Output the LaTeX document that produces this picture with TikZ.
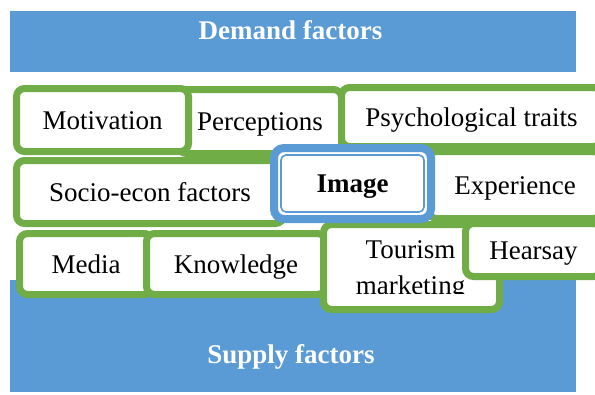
\documentclass[tikz,border=0pt]{standalone}
\usepackage{fontspec}
\setmainfont{Liberation Serif}
\usepackage{xcolor}
\usetikzlibrary{calc}
\definecolor{bandblue}{HTML}{5B9BD5}
\definecolor{boxgreen}{HTML}{70AD47}

\begin{document}
\begin{tikzpicture}[x=1pt, y=-1pt,
    every node/.style={font=\fontsize{27}{32}\selectfont},
    bandtext/.style={text=white, font=\fontsize{27}{32}\selectfont\bfseries, inner sep=0pt, text height=18pt, text depth=0pt},
    factor/.style={draw=boxgreen, line width=7pt, fill=white, rounded corners=8pt, inner sep=0pt, text height=18pt, text depth=0pt},
    core/.style={draw=bandblue, line width=8pt, fill=white, rounded corners=10pt, inner sep=0pt, text height=18pt, text depth=0pt, font=\fontsize{27}{32}\selectfont\bfseries}]
    \useasboundingbox (0,0) rectangle (595,394);

    % Demand and supply bands
    \fill[bandblue] (10,11) rectangle (576,72);
    \fill[bandblue] (10,280) rectangle (576,392);
    \node[bandtext] (dem) at (290.5,30) {Demand factors};
    \node[bandtext] (sup) at (291,354) {Supply factors};

    % Top row
    \node[factor, minimum width=163pt, minimum height=64pt] (perc) at (260,121.5) {Perceptions};
    \node[factor, minimum width=172pt, minimum height=63pt] (mot) at (102.5,120) {Motivation};
    \node[factor, minimum width=260pt, minimum height=59pt] (psy) at (471.5,117) {Psychological traits};

    % Middle row
    \node[factor, minimum width=267pt, minimum height=63pt] (soc) at (150,192) {Socio-econ factors};
    \node[factor, minimum width=173pt, minimum height=67pt] (exp) at (515,185) {Experience};

    % Bottom row
    \node[factor, minimum width=133pt, minimum height=61pt] (med) at (86,264) {Media};
    \node[factor, minimum width=179pt, minimum height=61pt] (know) at (236,264) {Knowledge};
    \node[factor, minimum width=176pt, minimum height=85pt] (tour) at (411.5,267) {};
    \begin{scope}
        \clip (325,228) rectangle (496,293);
        \node[inner sep=0pt, align=center, font=\fontsize{27}{36}\selectfont] (tourtxt) at ($(tour)+(-1,3)$) {Tourism\\marketing};
    \end{scope}
    \node[factor, minimum width=136pt, minimum height=53pt] (hear) at (533.5,250) {Hearsay};

    % Image in the middle (outer sep puts the anchors on the outer edge)
    \node[core, minimum width=157pt, minimum height=71pt] (img) at (352.5,183.5) {Image};
    \draw[bandblue, line width=1.6pt, rounded corners=5pt] ($(img.south west)+(11,-11)$) rectangle ($(img.north east)+(-11,11)$);

\end{tikzpicture}
\end{document}
